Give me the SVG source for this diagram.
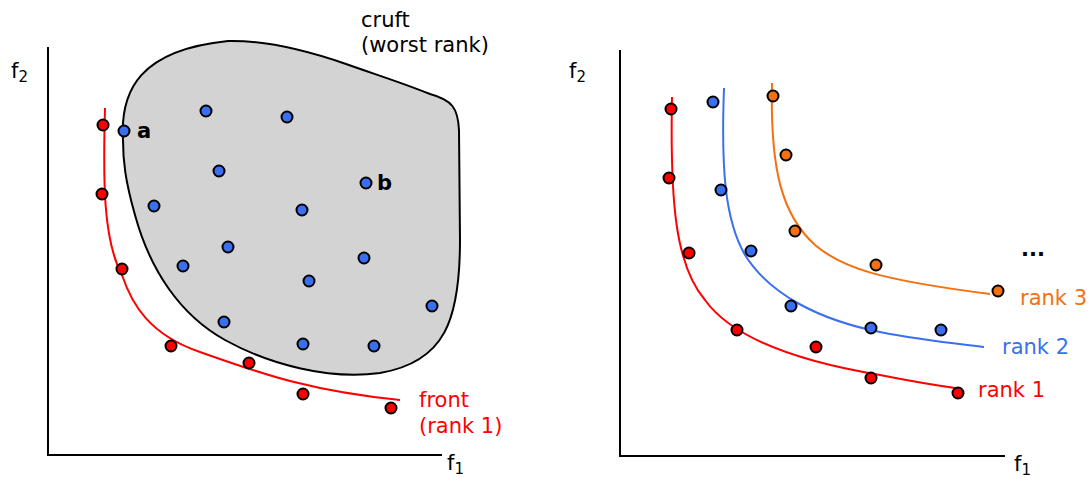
<svg xmlns="http://www.w3.org/2000/svg" width="1089" height="477" viewBox="0 0 1089 477">
<style>
text{font-family:"DejaVu Sans","Verdana",sans-serif;font-size:21px;fill:#000}
.sub{font-size:15px}
.axis{stroke:#000;stroke-width:2;fill:none}
.cr{fill:none;stroke:#ff0000;stroke-width:2}
.cb{fill:none;stroke:#3a6ff0;stroke-width:2}
.co{fill:none;stroke:#f57010;stroke-width:2}
.r{fill:#ff0000;stroke:#000;stroke-width:2}
.b{fill:#3a6ff0;stroke:#000;stroke-width:2}
.o{fill:#f57010;stroke:#000;stroke-width:2}
.tr{fill:#ff0000}
.tb{fill:#3a6ff0}
.to{fill:#f57010}
.lbl{font-weight:bold;font-size:21px}
</style>
<rect width="1089" height="477" fill="#fff"/>
<g id="left-plot">
<g id="left-axes">
<path class="axis" d="M48,47 V455 H442"/>
<text x="11" y="78">f<tspan class="sub" dy="4">2</tspan></text>
<text x="447" y="470">f<tspan class="sub" dy="4">1</tspan></text>
</g>
<g id="cruft">
<path d="M123,140 C120,90 140,50 228,41 C270,40 320,55 346,64 C380,76 400,82 430,94 C452,100 458,108 459,130 L460,240 C460,320 445,362 380,373 C330,380 270,365 225,340 C180,315 150,270 135,215 C125,180 123,160 123,140 Z" fill="#d3d3d3" stroke="#000" stroke-width="2"/>
<text x="361" y="27">cruft</text>
<text x="361" y="52">(worst rank)</text>
</g>
<g id="front-left">
<path class="cr" d="M105,108 C103,180 103,240 122,275 C132,305 150,335 200,352 C250,369 300,390 400,400"/>
<text class="tr" x="419" y="407">front</text>
<text class="tr" x="419" y="433">(rank 1)</text>
</g>
<g id="points-left">
<circle class="r" cx="103" cy="125" r="5.5"/>
<circle class="r" cx="102" cy="194" r="5.5"/>
<circle class="r" cx="122" cy="269" r="5.5"/>
<circle class="r" cx="171" cy="346" r="5.5"/>
<circle class="r" cx="249" cy="363" r="5.5"/>
<circle class="r" cx="303" cy="394" r="5.5"/>
<circle class="r" cx="391" cy="408" r="5.5"/>
<circle class="b" cx="124" cy="131" r="5.5"/>
<circle class="b" cx="206" cy="111" r="5.5"/>
<circle class="b" cx="287" cy="117" r="5.5"/>
<circle class="b" cx="219" cy="171" r="5.5"/>
<circle class="b" cx="366" cy="183" r="5.5"/>
<circle class="b" cx="154" cy="206" r="5.5"/>
<circle class="b" cx="302" cy="210" r="5.5"/>
<circle class="b" cx="228" cy="247" r="5.5"/>
<circle class="b" cx="183" cy="266" r="5.5"/>
<circle class="b" cx="364" cy="258" r="5.5"/>
<circle class="b" cx="309" cy="281" r="5.5"/>
<circle class="b" cx="432" cy="306" r="5.5"/>
<circle class="b" cx="224" cy="322" r="5.5"/>
<circle class="b" cx="303" cy="344" r="5.5"/>
<circle class="b" cx="374" cy="346" r="5.5"/>
</g>
<text class="lbl" x="137" y="138">a</text>
<text class="lbl" x="377" y="190">b</text>
</g>
<g id="right-plot">
<g id="right-axes">
<path class="axis" d="M620,50 V456 H1005"/>
<text x="569" y="78">f<tspan class="sub" dy="4">2</tspan></text>
<text x="1014" y="471">f<tspan class="sub" dy="4">1</tspan></text>
</g>
<g id="rank1">
<path class="cr" d="M672,97 C670,200 675,265 705,300 C730,335 790,360 880,375 C910,381 940,386 962,389"/>
<circle class="r" cx="671" cy="109" r="5.5"/>
<circle class="r" cx="669" cy="178" r="5.5"/>
<circle class="r" cx="689" cy="253" r="5.5"/>
<circle class="r" cx="737" cy="330" r="5.5"/>
<circle class="r" cx="816" cy="347" r="5.5"/>
<circle class="r" cx="871" cy="378" r="5.5"/>
<circle class="r" cx="958" cy="393" r="5.5"/>
<text class="tr" x="978" y="397">rank 1</text>
</g>
<g id="rank2">
<path class="cb" d="M724,88 C721,170 725,220 745,255 C770,295 820,320 880,332 C920,340 960,344 984,347"/>
<circle class="b" cx="713" cy="102" r="5.5"/>
<circle class="b" cx="721" cy="190" r="5.5"/>
<circle class="b" cx="751" cy="251" r="5.5"/>
<circle class="b" cx="791" cy="306" r="5.5"/>
<circle class="b" cx="871" cy="328" r="5.5"/>
<circle class="b" cx="941" cy="330" r="5.5"/>
<text class="tb" x="1002" y="354">rank 2</text>
</g>
<g id="rank3">
<path class="co" d="M772,83 C770,170 782,215 815,245 C842,268 880,280 990,294"/>
<circle class="o" cx="773" cy="96" r="5.5"/>
<circle class="o" cx="786" cy="155" r="5.5"/>
<circle class="o" cx="795" cy="231" r="5.5"/>
<circle class="o" cx="876" cy="265" r="5.5"/>
<circle class="o" cx="998" cy="291" r="5.5"/>
<text class="to" x="1020" y="305">rank 3</text>
</g>
<text x="1021" y="256" font-weight="bold" font-size="22">...</text>
</g>
</svg>
